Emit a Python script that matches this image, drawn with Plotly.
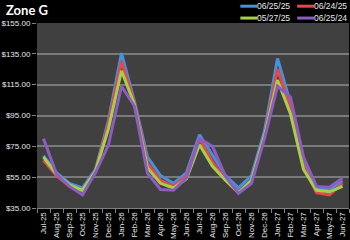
import plotly.graph_objects as go

months = ["Jul-25", "Aug-25", "Sep-25", "Oct-25", "Nov-25", "Dec-25", "Jan-26", "Feb-26",
          "Mar-26", "Apr-26", "May-26", "Jun-26", "Jul-26", "Aug-26", "Sep-26", "Oct-26",
          "Nov-26", "Dec-26", "Jan-27", "Feb-27", "Mar-27", "Apr-27", "May-27", "Jun-27"]

s_062525 = [69, 58, 51, 48, 60, 92, 135.5, 104, 68, 56, 51, 58, 82.5, 69, 56, 48, 56, 85, 132, 103, 64, 48, 47, 52.5]
s_062425 = [66, 56, 49, 46, 59, 90, 130, 103, 64, 53, 49, 56, 80, 65, 53, 45, 53, 82, 125, 100, 62, 45, 43.5, 51]
s_052725 = [68, 57, 50, 46.5, 59, 86.5, 124, 102, 61, 51, 48, 54, 76, 62, 53, 45, 53, 82, 118, 96, 60, 46.5, 45.5, 49]
s_062524 = [80, 57, 49, 43.5, 58, 76, 114, 101, 57.5, 47, 46.5, 54.5, 80, 75, 55.5, 44.5, 51, 80, 114, 107, 68, 49, 48.5, 54.5]

series_names = ["06/25/25", "06/24/25", "05/27/25", "06/25/24"]
series_vals = [s_062525, s_062425, s_052725, s_062524]
colors = ["#4a8fdc", "#e04a48", "#a6d04a", "#8c5cc0"]

y_ticks = [35, 55, 75, 95, 115, 135, 155]

W, H = 350, 240
ML, MR, MT, MB = 36, 1, 23, 30
PW, PH = W - ML - MR, H - MT - MB

fig = go.Figure()
for name, vals, col in zip(series_names, series_vals, colors):
    fig.add_trace(go.Scatter(x=months, y=vals, mode="lines", name=name,
                             line=dict(color=col, width=3), showlegend=False))

# manual legend (2 x 2)
def px_x(p):
    return (p - ML) / PW

def px_y(p):
    return (H - MB - p) / PH

legend_pos = [(240, 6), (297, 6), (240, 18), (297, 18)]
for (lx, ly), name, col in zip(legend_pos, series_names, colors):
    fig.add_shape(type="line", xref="paper", yref="paper",
                  x0=px_x(lx), x1=px_x(lx + 17), y0=px_y(ly), y1=px_y(ly),
                  line=dict(color=col, width=3))
    fig.add_annotation(xref="paper", yref="paper", x=px_x(lx + 17), y=px_y(ly),
                       text=name, showarrow=False, xanchor="left", yanchor="middle",
                       xshift=-2, font=dict(size=8.5, color="#e8e8e8", family="Liberation Sans"))

fig.add_annotation(xref="paper", yref="paper", x=px_x(3), y=px_y(10), text="<b>Zone G</b>",
                   showarrow=False, xanchor="left", yanchor="middle",
                   font=dict(size=13, color="#ffffff", family="Lato"))

fig.update_layout(
    width=W, height=H,
    margin=dict(l=ML, r=MR, t=MT, b=MB),
    paper_bgcolor="#000000", plot_bgcolor="#404040",
    font=dict(family="Liberation Sans", color="#e8e8e8", size=8),
)
fig.update_xaxes(type="category", range=[-0.5, len(months) - 0.5], tickangle=-90,
                 showgrid=False, ticks="outside", tickson="boundaries", ticklen=4,
                 tickcolor="#808080", showline=True, linecolor="#808080",
                 tickfont=dict(size=8, color="#e8e8e8"))
fig.update_yaxes(range=[35, 155], tickvals=y_ticks,
                 ticktext=[f"${v:.2f}" for v in y_ticks],
                 showgrid=True, gridcolor="#7a7a7a", gridwidth=1.5,
                 ticks="outside", ticklen=4, tickcolor="#808080", zeroline=False,
                 tickfont=dict(size=8, color="#e8e8e8"))

fig.write_html("out.html")
